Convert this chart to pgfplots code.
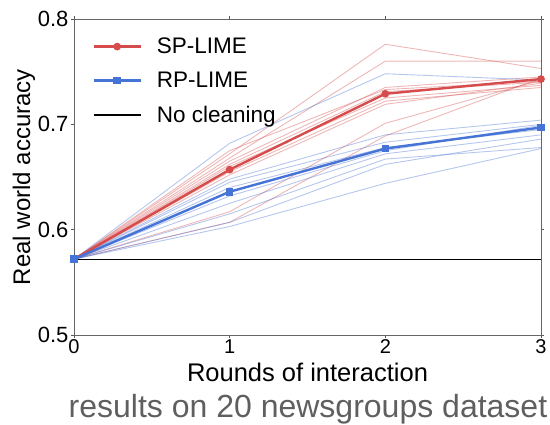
\documentclass[border=0pt]{standalone}
\usepackage{pgfplots}
\pgfplotsset{compat=1.18}
\usepackage{fontspec}
\setmainfont{Liberation Sans}
\definecolor{spred}{RGB}{214,76,76}
\definecolor{rpblue}{RGB}{70,115,214}
\definecolor{capgray}{RGB}{95,95,95}
\begin{document}
\begin{tikzpicture}[x=1pt,y=1pt]
\path[use as bounding box] (0,0) rectangle (550,425);
\begin{axis}[
  at={(74pt,90pt)}, anchor=south west,
  scale only axis, width=467pt, height=316pt,
  xmin=0, xmax=3, ymin=0.5, ymax=0.8,
  xtick={0,1,2,3}, ytick={0.5,0.6,0.7,0.8},
  yticklabel style={/pgf/number format/fixed,/pgf/number format/precision=1,/pgf/number format/fixed zerofill, xshift=1pt, font=\fontsize{22}{24}\selectfont},
  xticklabel style={yshift=2pt, font=\fontsize{20}{22}\selectfont},
  /pgf/number format/assume math mode=true,
  xtick align=outside, ytick align=outside,
  major tick length=3pt,
  tick style={gray!70!black, line width=0.6pt},
  axis line style={gray!80!black, line width=0.8pt},
  xlabel={Rounds of interaction}, ylabel={Real world accuracy},
  xlabel style={font=\fontsize{25.5}{27}\selectfont, yshift=-2pt},
  ylabel style={font=\fontsize{24}{26}\selectfont, yshift=-4pt},
  legend style={draw=none, fill=none, at={(0.037,0.95)}, anchor=north west,
    font=\fontsize{22.5}{25}\selectfont, row sep=13pt, inner sep=1pt},
  legend cell align=left,
  legend image code/.code={\draw[#1] (0pt,0pt) -- (23.5pt,0pt) -- (47pt,0pt) plot coordinates {(23.5pt,0pt)}; \path (60pt,0pt);},
  clip=false,
]
% thin red runs
\addplot[spred, opacity=0.4, line width=0.9pt, forget plot] coordinates {(0,0.572) (1,0.672) (2,0.776) (3,0.753)};
\addplot[spred, opacity=0.4, line width=0.9pt, forget plot] coordinates {(0,0.572) (1,0.668) (2,0.760) (3,0.760)};
\addplot[spred, opacity=0.4, line width=0.9pt, forget plot] coordinates {(0,0.572) (1,0.665) (2,0.735) (3,0.745)};
\addplot[spred, opacity=0.4, line width=0.9pt, forget plot] coordinates {(0,0.572) (1,0.662) (2,0.731) (3,0.740)};
\addplot[spred, opacity=0.4, line width=0.9pt, forget plot] coordinates {(0,0.572) (1,0.660) (2,0.725) (3,0.737)};
\addplot[spred, opacity=0.4, line width=0.9pt, forget plot] coordinates {(0,0.572) (1,0.655) (2,0.722) (3,0.735)};
\addplot[spred, opacity=0.4, line width=0.9pt, forget plot] coordinates {(0,0.572) (1,0.652) (2,0.719) (3,0.739)};
\addplot[spred, opacity=0.4, line width=0.9pt, forget plot] coordinates {(0,0.572) (1,0.617) (2,0.701) (3,0.742)};
\addplot[spred, opacity=0.4, line width=0.9pt, forget plot] coordinates {(0,0.572) (1,0.607) (2,0.689) (3,0.744)};
\addplot[spred, opacity=0.4, line width=0.9pt, forget plot] coordinates {(0,0.572) (1,0.675) (2,0.733) (3,0.741)};
% thin blue runs
\addplot[rpblue, opacity=0.4, line width=0.9pt, forget plot] coordinates {(0,0.572) (1,0.682) (2,0.748) (3,0.742)};
\addplot[rpblue, opacity=0.4, line width=0.9pt, forget plot] coordinates {(0,0.572) (1,0.648) (2,0.690) (3,0.704)};
\addplot[rpblue, opacity=0.4, line width=0.9pt, forget plot] coordinates {(0,0.572) (1,0.645) (2,0.683) (3,0.700)};
\addplot[rpblue, opacity=0.4, line width=0.9pt, forget plot] coordinates {(0,0.572) (1,0.640) (2,0.678) (3,0.695)};
\addplot[rpblue, opacity=0.4, line width=0.9pt, forget plot] coordinates {(0,0.572) (1,0.625) (2,0.672) (3,0.690)};
\addplot[rpblue, opacity=0.4, line width=0.9pt, forget plot] coordinates {(0,0.572) (1,0.615) (2,0.667) (3,0.678)};
\addplot[rpblue, opacity=0.4, line width=0.9pt, forget plot] coordinates {(0,0.572) (1,0.607) (2,0.662) (3,0.686)};
\addplot[rpblue, opacity=0.4, line width=0.9pt, forget plot] coordinates {(0,0.572) (1,0.603) (2,0.644) (3,0.677)};
\addplot[rpblue, opacity=0.4, line width=0.9pt, forget plot] coordinates {(0,0.572) (1,0.632) (2,0.675) (3,0.699)};
% means
\addplot[spred, line width=2.4pt, mark=*, mark size=2.6pt] coordinates {(0,0.572) (1,0.657) (2,0.729) (3,0.743)};
\addlegendentry{SP-LIME}
\addplot[rpblue, line width=2.4pt, mark=square*, mark size=2.6pt] coordinates {(0,0.572) (1,0.636) (2,0.677) (3,0.697)};
\addlegendentry{RP-LIME}
\addplot[black, line width=1.2pt, mark=none] coordinates {(0,0.572) (3,0.572)};
\addlegendentry{No cleaning}
\end{axis}
\node[text=capgray, font=\fontsize{32}{34}\selectfont, anchor=base] at (308,7) {results on 20 newsgroups dataset};
\end{tikzpicture}
\end{document}
